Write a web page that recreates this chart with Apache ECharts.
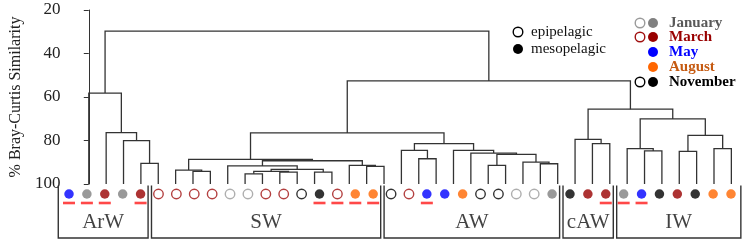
<!DOCTYPE html>
<html>
<head>
<meta charset="utf-8">
<script src="https://cdn.jsdelivr.net/npm/echarts@6/dist/echarts.min.js"></script>
<style>
  html, body { margin: 0; padding: 0; background: #fff; }
  #disp { width: 743px; height: 241px; }
</style>
</head>
<body>
<div id="disp"></div>
<script>
// samples, left to right
var leafMonth = ['May','Jan','Mar','Jan','Mar',
  'Mar','Mar','Mar','Mar','Jan','Jan','Mar','Mar','Nov','Nov','Mar','Aug','Aug',
  'Nov','Mar','May','May','Aug','Nov','Nov','Jan','Jan','Jan',
  'Nov','Mar','Mar',
  'Jan','May','Nov','Mar','Nov','Aug','Aug'];
// e = epipelagic, m = mesopelagic
var leafDepth = ['m','m','m','m','m',
  'e','e','e','e','e','e','e','e','e','m','e','m','m',
  'e','e','m','m','m','e','e','e','e','m',
  'm','m','m',
  'm','m','m','m','m','m','m'];
var leafMarked = [0, 1, 2, 4, 14, 15, 16, 17, 20, 30, 31, 32];

var groupNames = ['ArW', 'SW', 'AW', 'cAW', 'IW'];
var groupSizes = [5, 13, 10, 3, 7];

// linkage: [child a, child b, % similarity]; ids >= 38 are earlier merges
var merges = [
  [3, 4, 90.5], [2, 38, 80.1], [1, 39, 76.4], [0, 40, 58.2],
  [6, 7, 94.2], [5, 42, 93.6],
  [9, 10, 95.3], [11, 12, 94.5], [44, 45, 94.2], [13, 14, 94.5], [46, 47, 93.3],
  [8, 48, 91.7], [16, 17, 91.9], [15, 50, 91.4], [49, 51, 89.3], [43, 52, 88.7],
  [19, 20, 88.4], [18, 54, 84.5],
  [23, 24, 91.4], [26, 27, 90.7], [25, 57, 89.9], [56, 58, 86.4], [22, 59, 85.8],
  [21, 60, 84.5], [55, 61, 81.4], [53, 62, 76.5],
  [29, 30, 81.4], [28, 64, 79.5],
  [32, 33, 84.8], [31, 66, 83.7], [34, 35, 85.0], [36, 37, 83.7], [68, 69, 77.6],
  [67, 70, 70.1], [65, 71, 65.6], [63, 72, 52.6], [41, 73, 29.7]
];

var yTicks = [20, 40, 60, 80, 100];

var serif = "'Liberation Serif', 'Times New Roman', Times, serif";
var monthFill = { Jan: '#808080', Mar: '#990000', May: '#0000ff', Aug: '#ff6600', Nov: '#000000' };
var monthRing = { Jan: '#9a9a9a', Mar: '#a01010', May: '#0000ff', Aug: '#ff6600', Nov: '#000000' };

var nLeaf = leafMonth.length;

// node positions
var nodeX = [], nodeY = [];
for (var i = 0; i < nLeaf; i++) { nodeX.push(i); nodeY.push(100); }
var links = [];
merges.forEach(function (m) {
  var a = m[0], b = m[1], h = m[2];
  links.push({ coords: [[nodeX[a], nodeY[a]], [nodeX[a], h], [nodeX[b], h], [nodeX[b], nodeY[b]]] });
  nodeX.push((nodeX[a] + nodeX[b]) / 2);
  nodeY.push(h);
});

var leafPts = leafMonth.map(function (mo, i) {
  var filled = leafDepth[i] === 'm';
  return {
    value: [i, 10],
    itemStyle: filled
      ? { color: monthFill[mo], borderWidth: 0 }
      : { color: '#fff', borderColor: monthRing[mo], borderWidth: 1.4 }
  };
});
var markPts = leafMarked.map(function (i) { return [i, 19]; });

var boxes = [], boxLabels = [];
var start = 0;
groupSizes.forEach(function (n, gi) {
  var f = start, l = start + n - 1;
  var x0 = f - (gi === 0 ? 0.6 : 0.39);
  var x1 = l + (gi === groupSizes.length - 1 ? 0.55 : 0.42);
  boxes.push({ coords: [[x0, 1.5], [x0, 54], [x1, 54], [x1, 1.5]] });
  boxLabels.push({ value: [(x0 + x1) / 2, 38], name: groupNames[gi] });
  start += n;
});

var dom = document.getElementById('disp');
var myChart = echarts.init(dom);

function legendDot(cx, cy, fill, stroke) {
  return {
    type: 'circle', shape: { cx: cx, cy: cy, r: stroke ? 4.8 : 5 },
    style: stroke ? { fill: '#fff', stroke: stroke, lineWidth: 1.4 } : { fill: fill }
  };
}
function legendText(x, y, txt, color, bold) {
  return {
    type: 'text', x: x, y: y,
    style: { text: txt, fill: color, font: (bold ? 'bold ' : '') + '15px ' + serif,
      textVerticalAlign: 'middle', verticalAlign: 'middle' }
  };
}

var option = {
  animation: false,
  backgroundColor: '#fff',
  grid: [
    { left: 48, right: 0, top: 10, height: 174 },
    { left: 48, right: 0, top: 184, height: 57 }
  ],
  xAxis: [
    { gridIndex: 0, type: 'value', min: -1.174, max: 37.67, show: false },
    { gridIndex: 1, type: 'value', min: -1.174, max: 37.67, show: false }
  ],
  yAxis: [
    {
      gridIndex: 0, type: 'value', min: 20, max: 100, interval: 20, inverse: true,
      name: '% Bray-Curtis Similarity', nameLocation: 'middle', nameGap: 34, nameRotate: 90,
      nameTextStyle: { fontFamily: serif, fontSize: 16, color: '#222' },
      axisLine: { show: true, lineStyle: { color: '#333', width: 1 } },
      axisTick: { show: true, length: 5, lineStyle: { color: '#333' } },
      axisLabel: { fontFamily: serif, fontSize: 17, color: '#222', margin: 8,
        formatter: function (v) { return yTicks.indexOf(v) >= 0 ? String(v) : ''; } },
      splitLine: { show: false }
    },
    { gridIndex: 1, type: 'value', min: 0, max: 57, inverse: true, show: false }
  ],
  series: [
    {
      type: 'lines', coordinateSystem: 'cartesian2d', xAxisIndex: 0, yAxisIndex: 0,
      polyline: true, silent: true, data: links,
      lineStyle: { color: '#333', width: 1.3, opacity: 1 }
    },
    {
      type: 'lines', coordinateSystem: 'cartesian2d', xAxisIndex: 1, yAxisIndex: 1,
      polyline: true, silent: true, data: boxes,
      lineStyle: { color: '#333', width: 1.4, opacity: 1 }
    },
    {
      type: 'scatter', xAxisIndex: 1, yAxisIndex: 1, symbol: 'circle', symbolSize: 9.5,
      data: leafPts
    },
    {
      type: 'scatter', xAxisIndex: 1, yAxisIndex: 1, symbol: 'rect', symbolSize: [12, 2.6],
      itemStyle: { color: '#ff1a1a' }, data: markPts
    },
    {
      type: 'scatter', xAxisIndex: 1, yAxisIndex: 1, symbolSize: 0, data: boxLabels,
      label: { show: true, position: 'inside', formatter: '{b}', fontFamily: serif,
        fontSize: 21, color: '#111' }
    }
  ],
  graphic: [
    legendDot(518, 32, null, '#000'), legendText(531, 32, 'epipelagic', '#111', false),
    legendDot(518, 49, '#000'), legendText(531, 49, 'mesopelagic', '#111', false),
    legendDot(640, 23, null, '#9a9a9a'), legendDot(653, 23, '#808080'),
    legendText(669, 23, 'January', '#595959', true),
    legendDot(640, 37, null, '#a01010'), legendDot(653, 37, '#990000'),
    legendText(669, 37, 'March', '#990000', true),
    legendDot(653, 52, '#0000ff'),
    legendText(669, 52, 'May', '#0000ff', true),
    legendDot(653, 67, '#ff6600'),
    legendText(669, 67, 'August', '#c55a11', true),
    legendDot(640, 82, null, '#000'), legendDot(653, 82, '#000'),
    legendText(669, 82, 'November', '#000', true)
  ]
};

window.onresize = function () { myChart.resize(); };

if (option && typeof option === 'object') {
  myChart.setOption(option);
}
</script>
</body>
</html>
